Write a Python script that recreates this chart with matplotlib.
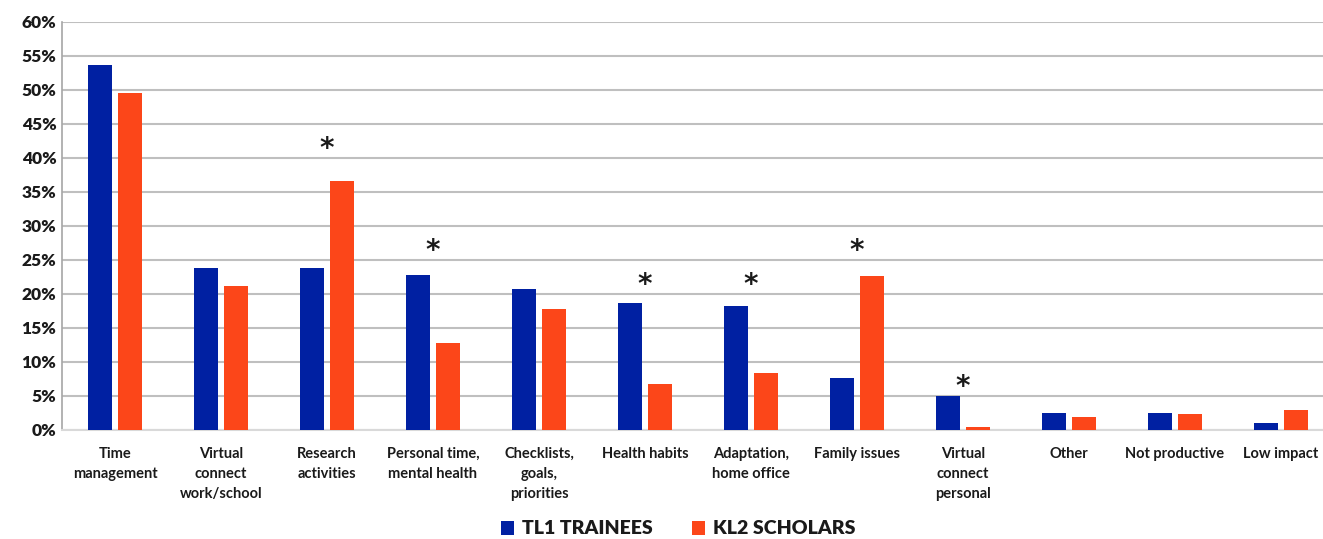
import matplotlib.pyplot as plt
import numpy as np

# Data (percent of respondents)
categories = ['Time\nmanagement', 'Virtual\nconnect\nwork/school', 'Research\nactivities',
              'Personal time,\nmental health', 'Checklists,\ngoals,\npriorities', 'Health habits',
              'Adaptation,\nhome office', 'Family issues', 'Virtual\nconnect\npersonal',
              'Other', 'Not productive', 'Low impact']
tl1_trainees = [53.7, 23.8, 23.8, 22.8, 20.8, 18.7, 18.2, 7.6, 5.0, 2.5, 2.5, 1.1]
kl2_scholars = [49.5, 21.2, 36.6, 12.8, 17.8, 6.8, 8.4, 22.7, 0.5, 1.9, 2.4, 2.9]

# significance markers: category index -> height of the asterisk (%)
star_index = [2, 3, 5, 6, 7, 8]
star_height = [42.5, 27.5, 22.5, 22.5, 27.5, 7.5]

yticks = np.arange(0, 61, 5)

blue = '#0020A2'
orange = '#FC4619'
grid_col = '#BFBFBF'
text_col = '#1a1a1a'

plt.rcParams['font.family'] = ['Lato', 'DejaVu Sans']

fig = plt.figure(figsize=(13.23, 5.39), dpi=100, facecolor='white')
ax = fig.add_axes([62/1323, 1 - 430/539, 1 - 62/1323, (430 - 22)/539])

x = np.arange(len(categories))
w = 24/106
off = 15/106
ax.bar(x - off, tl1_trainees, w, color=blue, label='TL1 TRAINEES', zorder=3)
ax.bar(x + off, kl2_scholars, w, color=orange, label='KL2 SCHOLARS', zorder=3)

# asterisks: DejaVu glyph sits high in its box, so shift it down a little
for i, h in zip(star_index, star_height):
    ax.annotate('*', (x[i], h), xytext=(0, -6), textcoords='offset points',
                ha='center', va='center', fontsize=20, color=text_col,
                family='DejaVu Sans', fontweight='bold')

ax.set_xlim(-0.5, 11.5 - 11/106)
ax.set_ylim(0, 60)
ax.set_yticks(yticks)
ax.set_yticklabels([str(v) + '%' for v in yticks], fontsize=12.5, fontweight='heavy', color=text_col)
ax.set_xticks(x)
ax.set_xticklabels(categories, fontsize=10.5, fontweight='bold', color=text_col, linespacing=1.55)
ax.tick_params(axis='both', length=0)
ax.tick_params(axis='x', pad=12)
ax.tick_params(axis='y', pad=4)

ax.yaxis.grid(True, color=grid_col, linewidth=1.5, zorder=0)
for s in ['top', 'right']:
    ax.spines[s].set_visible(False)
ax.spines['left'].set_color('#A6A6A6')
ax.spines['bottom'].set_color('#D9D9D9')
ax.spines['left'].set_linewidth(1.2)
ax.spines['bottom'].set_linewidth(1.5)

leg = fig.legend(loc='center', bbox_to_anchor=(678/1323, 1 - 529/539), ncol=2, frameon=False,
                 prop={'size': 14, 'weight': 'heavy'}, handlelength=0.7, handleheight=0.7,
                 handletextpad=0.4, columnspacing=2.0)
for t in leg.get_texts():
    t.set_color(text_col)

fig.savefig('out.png', dpi=100, facecolor='white')
